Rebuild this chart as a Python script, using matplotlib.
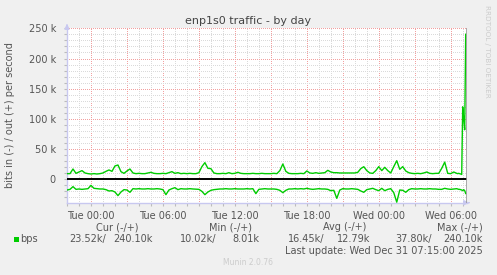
import numpy as np
import matplotlib.pyplot as plt
from matplotlib.ticker import MultipleLocator, FixedLocator, FuncFormatter

# hours relative to Tue 00:00, 15 min steps then 5 min steps at the end
hours_main = np.arange(-2.0, 30.51, 0.25)
hours_tail = [30.583, 30.667, 30.75, 30.833, 30.917, 31.0, 31.083, 31.167, 31.25]

# bits out (+), in k
out_main = [9.4, 9.4, 17.1, 9.9, 12.1, 14.4, 10.5, 9.4, 8.8, 9.4,
            8.8, 9.4, 10.5, 13.2, 15.5, 13.2, 22.1, 23.7, 12.7, 9.9,
            13.8, 17.1, 10.5, 9.4, 9.9, 9.4, 9.4, 10.5, 11.6, 9.9,
            9.4, 9.4, 9.9, 9.4, 11.0, 12.7, 9.9, 11.0, 9.4, 9.9,
            9.4, 9.9, 9.4, 9.4, 11.0, 21.0, 27.6, 18.2, 17.7, 10.5,
            9.4, 9.4, 9.9, 9.4, 11.0, 9.4, 9.9, 11.6, 9.9, 9.4,
            9.4, 9.4, 9.9, 9.4, 9.4, 9.9, 9.4, 9.4, 9.4, 9.9,
            9.4, 14.4, 25.4, 13.2, 9.9, 9.4, 9.4, 9.4, 9.9, 9.4,
            13.8, 10.5, 9.9, 11.0, 9.9, 10.5, 11.0, 14.9, 12.1, 11.0,
            11.0, 10.5, 10.5, 10.5, 10.5, 10.5, 10.5, 11.6, 17.7, 20.9,
            14.4, 10.5, 9.9, 14.4, 21.0, 14.4, 19.9, 14.4, 10.5, 21.0,
            30.8, 16.6, 21.0, 13.8, 11.0, 9.9, 9.4, 9.9, 9.4, 10.5,
            12.1, 9.9, 9.4, 9.9, 9.9, 18.2, 28.5, 9.9, 9.4, 12.1,
            9.9]
out_tail = [9.4, 9.9, 9.4, 8.8, 8.01, 120.0, 100.0, 82.0, 240.1]

# bits in (-), in k
in_main = [-17.7, -16.6, -12.1, -16.6, -16.0, -16.6, -16.0, -15.5, -10.02, -14.9,
           -15.5, -16.0, -16.0, -17.1, -19.3, -18.8, -21.0, -27.0, -21.0, -17.1,
           -17.7, -21.5, -15.5, -16.0, -15.5, -16.0, -16.0, -15.5, -16.0, -16.0,
           -15.5, -16.0, -17.1, -25.4, -17.7, -15.5, -13.8, -17.1, -15.5, -16.0,
           -16.0, -15.5, -16.0, -16.3, -16.6, -19.9, -25.4, -21.0, -18.2, -17.1,
           -16.6, -16.0, -16.0, -15.5, -16.0, -16.0, -15.5, -16.0, -16.0, -16.0,
           -15.5, -16.0, -15.5, -23.7, -16.6, -16.0, -15.5, -16.0, -16.0, -16.0,
           -16.6, -18.2, -22.1, -18.2, -16.0, -16.0, -15.5, -16.0, -15.5, -16.0,
           -14.9, -16.0, -16.6, -16.0, -15.5, -16.0, -16.0, -16.6, -18.8, -18.2,
           -31.5, -17.7, -15.5, -16.0, -16.0, -15.5, -16.0, -16.6, -19.3, -21.5,
           -17.1, -16.0, -14.9, -17.1, -18.8, -14.9, -18.8, -16.6, -15.5, -22.1,
           -37.8, -17.7, -18.2, -21.5, -17.1, -15.5, -16.0, -16.0, -15.5, -16.0,
           -16.0, -15.5, -16.0, -16.0, -16.6, -16.6, -14.9, -16.0, -16.6, -16.0,
           -15.5]
in_tail = [-16.0, -16.6, -16.6, -17.1, -17.7, -18.8, -17.1, -18.8, -23.52]

title = "enp1s0 traffic - by day"
ylabel = "bits in (-) / out (+) per second"
headers = ["Cur (-/+)", "Min (-/+)", "Avg (-/+)", "Max (-/+)"]
stats = ["23.52k/", "240.10k", "10.02k/", "8.01k",
         "16.45k/", "12.79k", "37.80k/", "240.10k"]
last_update = "Last update: Wed Dec 31 07:15:00 2025"

W, H = 497, 275
BG = '#F0F0F0'
GREEN = '#00CC00'
TXT = '#555555'


def fx(x):
    return x / W


def fy(y):
    return 1 - y / H


def main():
    hours = np.concatenate([hours_main, hours_tail])
    out_k = np.array(out_main + out_tail)
    in_k = np.array(in_main + in_tail)

    fig = plt.figure(figsize=(W/100, H/100), dpi=100, facecolor=BG)
    ax = fig.add_axes([fx(67), fy(202.7), fx(399.7), (202.7-28.3)/H])
    ax.set_facecolor('white')
    ax.set_xlim(-2, 31.333)
    ax.set_ylim(-38.7, 250)

    # minor grid every hour / 10 k, major every 3 hours / 50 k
    ax.xaxis.set_major_locator(MultipleLocator(3))
    ax.xaxis.set_minor_locator(FixedLocator(
        [h for h in range(-2, 32) if h % 3 != 0]))
    ax.yaxis.set_major_locator(MultipleLocator(50))
    ax.yaxis.set_minor_locator(FixedLocator(
        [v for v in range(-30, 251, 10) if v % 50 != 0]))

    def xfmt(v, p):
        if round(v) % 6 != 0:
            return ''
        day = 'Tue' if v < 24 else 'Wed'
        return '%s %02d:00' % (day, int(round(v)) % 24)

    def yfmt(v, p):
        return '0' if abs(v) < 1e-6 else '%d k' % round(v)

    ax.xaxis.set_major_formatter(FuncFormatter(xfmt))
    ax.yaxis.set_major_formatter(FuncFormatter(yfmt))
    ax.tick_params(which='both', color='#BBBBBB', labelcolor=TXT,
                   labelsize=7, length=2, width=0.8)
    ax.tick_params(axis='x', which='major', pad=4)
    ax.tick_params(axis='y', which='major', pad=6)
    ax.tick_params(which='minor', grid_color='#DADADA', grid_linewidth=0.72,
                   grid_linestyle=(0, (1, 1.5)), grid_antialiased=False)
    ax.tick_params(which='major', grid_color='#F2A0A0', grid_linewidth=0.72,
                   grid_linestyle=(0, (1, 1.5)), grid_antialiased=False)
    ax.grid(True, which='both')
    ax.set_axisbelow(True)
    for s in ['top', 'right']:
        ax.spines[s].set_visible(False)
    for s in ['left', 'bottom']:
        ax.spines[s].set_color('#C8C8F0')
        ax.spines[s].set_linewidth(1)

    ax.plot(hours, out_k, color=GREEN, lw=1, zorder=3)
    ax.plot(hours, in_k, color=GREEN, lw=1, zorder=3)
    ax.axhline(0, color='black', lw=1.4, zorder=4)
    ax.axvline(31.333, color='#999999', lw=1.2, zorder=4)

    # axis arrows
    ax.annotate('', xy=(472/W, fy(202.7)), xytext=(466/W, fy(202.7)),
                xycoords='figure fraction',
                arrowprops=dict(arrowstyle='-|>', color='#C8C8F0', lw=1,
                                mutation_scale=7))
    ax.annotate('', xy=(fx(67), fy(21)), xytext=(fx(67), fy(28.5)),
                xycoords='figure fraction',
                arrowprops=dict(arrowstyle='-|>', color='#C8C8F0', lw=1,
                                mutation_scale=7))

    fig.text(fx(248.5), fy(21.5), title, ha='center', va='center',
             fontsize=8, color='#444444')
    fig.text(fx(10), fy(115.5), ylabel, rotation=90, ha='center',
             va='center', fontsize=7, color=TXT)
    fig.text(fx(487), fy(5), "RRDTOOL / TOBI OETIKER", rotation=270,
             ha='center', va='top', fontsize=5.2, color='#CCCCCC')

    header_x = [117, 230.5, 344.5, 459.5]
    for hx, h in zip(header_x, headers):
        fig.text(fx(hx), fy(227.3), h, ha='center', va='center',
                 fontsize=7, color=TXT)

    ax_sq = fig.add_axes([fx(14), fy(242), fx(5.3), 5.3/H])
    ax_sq.set_facecolor(GREEN)
    ax_sq.set_xticks([])
    ax_sq.set_yticks([])
    for s in ax_sq.spines.values():
        s.set_visible(False)
    fig.text(fx(20.3), fy(239.3), "bps", ha='left', va='center',
             fontsize=7, color=TXT)

    stat_right = [106, 152.7, 216.7, 259, 324, 370, 432.3, 482.3]
    for sx, s in zip(stat_right, stats):
        fig.text(fx(sx), fy(239.3), s, ha='right', va='center',
                 fontsize=7, color=TXT)

    fig.text(fx(482.3), fy(250.7), last_update, ha='right', va='center',
             fontsize=7, color=TXT)
    fig.text(fx(248), fy(262.7), "Munin 2.0.76", ha='center', va='center',
             fontsize=5.5, color='#CCCCCC')

    fig.savefig('out.png', dpi=100, facecolor=BG)


if __name__ == "__main__":
    main()
